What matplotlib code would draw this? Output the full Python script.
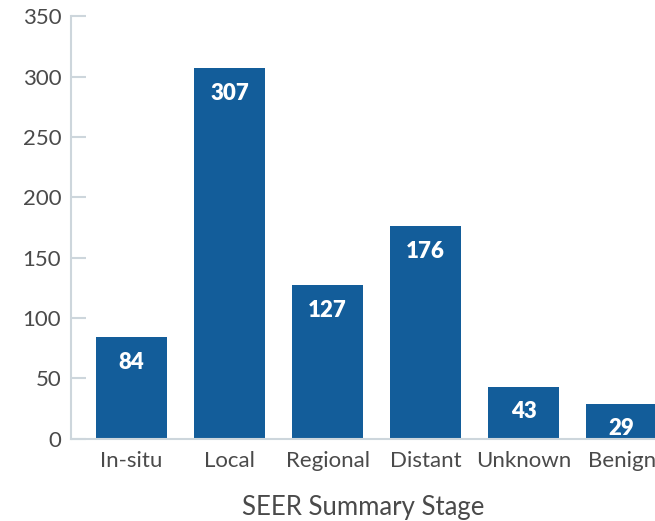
import matplotlib
matplotlib.use("Agg")
import matplotlib.pyplot as plt

categories = ["In-situ", "Local", "Regional", "Distant", "Unknown", "Benign"]
values = [84, 307, 127, 176, 43, 29]
yticks = [0, 50, 100, 150, 200, 250, 300, 350]

plt.rcParams['font.family'] = ['Lato', 'DejaVu Sans']

bar_color = "#135d9a"
spine_color = "#cdd6dc"
text_color = "#4a4a4a"

fig = plt.figure(figsize=(6.55, 5.21), dpi=100)
ax = fig.add_axes([0.1084, 0.158, 0.8916, 0.811])

x = list(range(len(categories)))
bars = ax.bar(x, values, width=0.72, color=bar_color, zorder=2)

for xi, v in zip(x, values):
    ax.annotate(str(v), (xi, v), xytext=(0, -18), textcoords="offset points",
                ha="center", va="center", color="white", fontsize=16,
                fontweight="heavy")

ax.set_xlim(-0.617, 5.34)
ax.set_ylim(0, 350)
ax.set_yticks(yticks)
ax.set_xticks(x)
ax.set_xticklabels(categories)

for s in ["top", "right"]:
    ax.spines[s].set_visible(False)
for s in ["left", "bottom"]:
    ax.spines[s].set_color(spine_color)
    ax.spines[s].set_linewidth(1.5)

ax.tick_params(axis="y", direction="in", length=11, width=1.5, color=spine_color,
               labelsize=16, labelcolor=text_color, pad=7)
ax.tick_params(axis="x", length=0, labelsize=16, labelcolor=text_color, pad=9)
ax.set_xlabel("SEER Summary Stage", fontsize=18.5, color=text_color, labelpad=17)

fig.savefig("out.png", dpi=100)
